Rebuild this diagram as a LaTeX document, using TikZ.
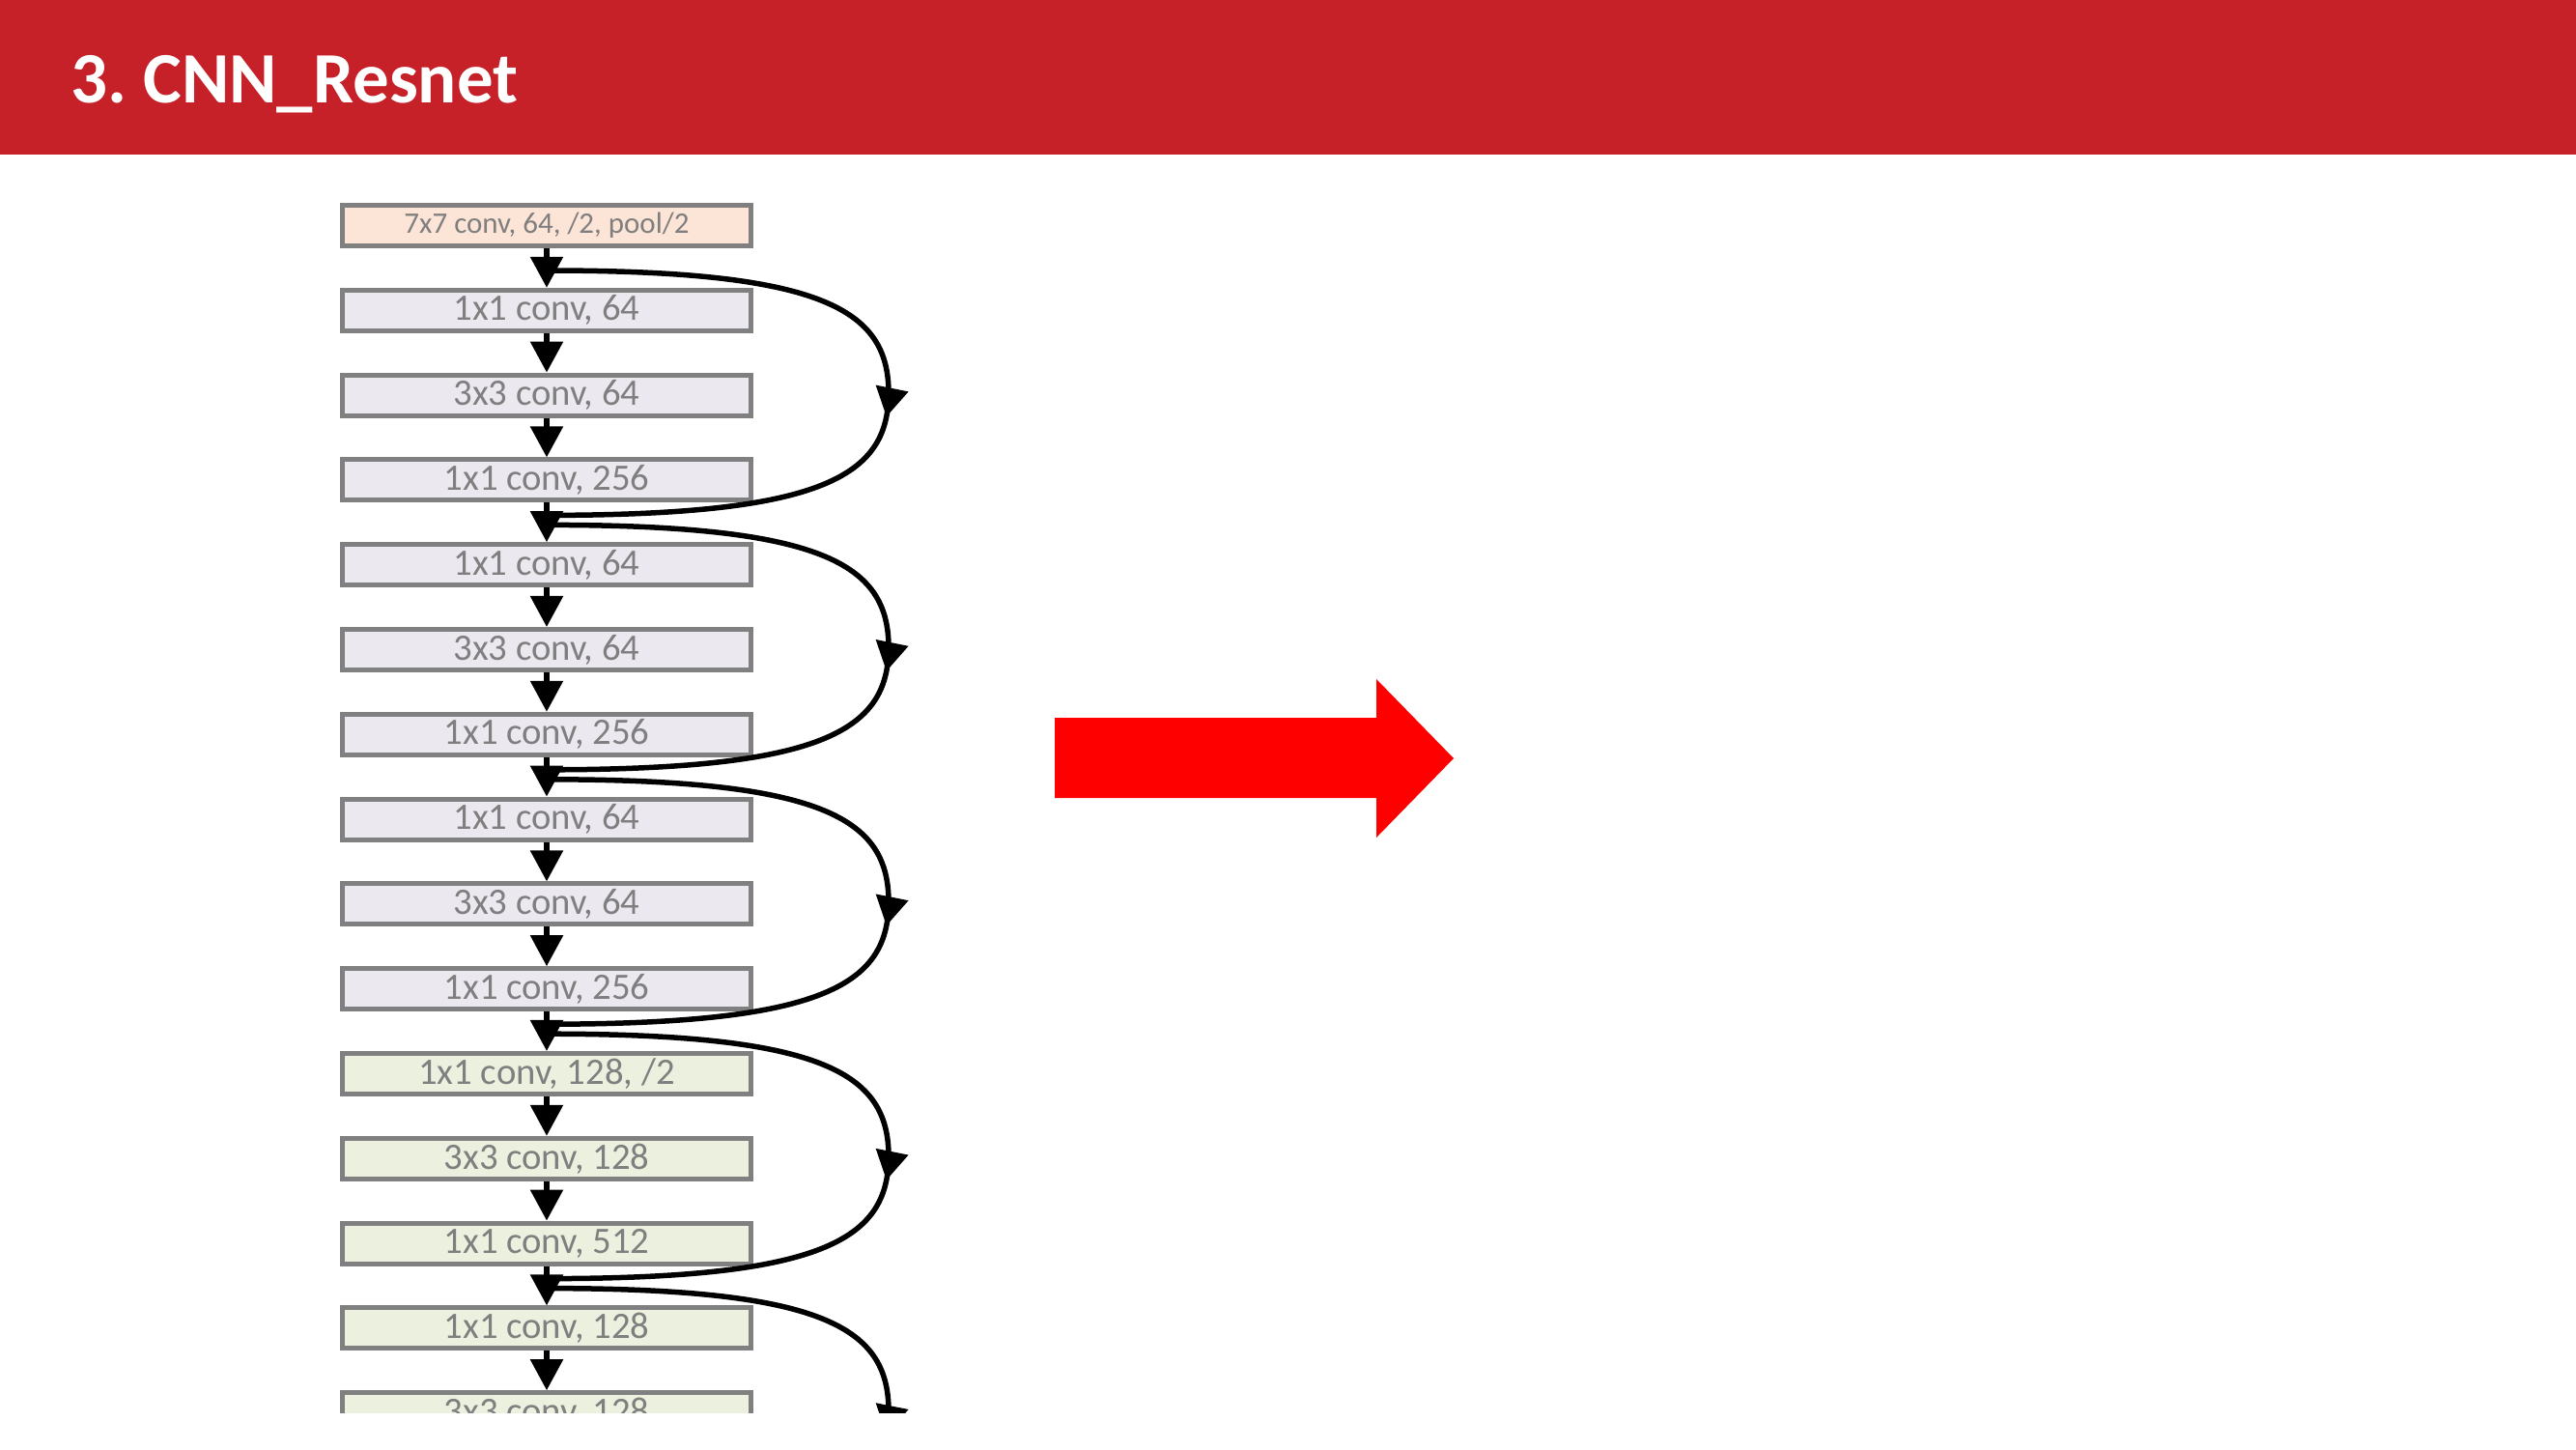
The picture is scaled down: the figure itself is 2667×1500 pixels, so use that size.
\documentclass[tikz,border=0pt]{standalone}
\usepackage{fontspec}
\setmainfont{Carlito}
\usetikzlibrary{arrows.meta,decorations.markings}
\definecolor{bannerred}{HTML}{C62028}
\definecolor{boxgray}{HTML}{808080}
\definecolor{textgray}{HTML}{7F7F7F}
\definecolor{stemfill}{HTML}{FCE4D6}
\definecolor{lavfill}{HTML}{EBE8F0}
\definecolor{greenfill}{HTML}{EBF1DE}
\tikzset{
	convbox/.style={draw=boxgray, line width=0.05cm, minimum width=4.22cm, minimum height=0.42cm, inner sep=0pt, text=textgray, font=\fontsize{11pt}{13pt}\selectfont},
	flow/.style={line width=0.055cm, -{Triangle[length=0.32cm,width=0.33cm]}},
	skip/.style={line width=0.055cm, postaction={decorate}, decoration={markings, mark=at position 0.53 with {\arrow{Triangle[length=0.3cm,width=0.33cm]}}}}
}
\newcommand{\BoxStem}[3][]{\node[convbox, fill=stemfill, font=\fontsize{8.8pt}{10pt}\selectfont, #1] (#2) {#3};}
\newcommand{\BoxA}[3][]{\node[convbox, fill=lavfill, #1] (#2) {#3};}
\newcommand{\BoxB}[3][]{\node[convbox, fill=greenfill, #1] (#2) {#3};}

\begin{document}
\begin{tikzpicture}[x=0.01cm, y=-0.01cm]
\useasboundingbox (0,0) rectangle (2667,1500);
\fill[bannerred] (0,0) rectangle (2667,160);
\node[anchor=base west, inner sep=0pt, text=white, font=\bfseries\fontsize{21.3pt}{24pt}\selectfont] (title) at (73,107) {3.\ CNN\_Resnet};

% arrow to the right
\fill[red] (1092,743) -- (1425,743) -- (1425,703) -- (1505,785) -- (1425,867) -- (1425,826) -- (1092,826) -- cycle;

\begin{scope}
\clip (0,0) rectangle (2667,1462);
	\BoxStem[at={(566,233.5)}]{b1}{7x7 conv, 64, /2, pool/2}
	\BoxA[at={(566,321.3)}]{b2}{1x1 conv, 64}
	\BoxA[at={(566,409.1)}]{b3}{3x3 conv, 64}
	\BoxA[at={(566,496.9)}]{b4}{1x1 conv, 256}
	\BoxA[at={(566,584.7)}]{b5}{1x1 conv, 64}
	\BoxA[at={(566,672.5)}]{b6}{3x3 conv, 64}
	\BoxA[at={(566,760.3)}]{b7}{1x1 conv, 256}
	\BoxA[at={(566,848.1)}]{b8}{1x1 conv, 64}
	\BoxA[at={(566,935.9)}]{b9}{3x3 conv, 64}
	\BoxA[at={(566,1023.7)}]{b10}{1x1 conv, 256}
	\BoxB[at={(566,1111.5)}]{b11}{1x1 conv, 128, /2}
	\BoxB[at={(566,1199.3)}]{b12}{3x3 conv, 128}
	\BoxB[at={(566,1287.1)}]{b13}{1x1 conv, 512}
	\BoxB[at={(566,1374.9)}]{b14}{1x1 conv, 128}
	\BoxB[at={(566,1462.7)}]{b15}{3x3 conv, 128}

	% shortcut ends
	\coordinate (s0) at (566,280);
	\coordinate (m0) at (920,406.7);
	\coordinate (e0) at (566,533.4);
	\coordinate (s1) at (566,543.4);
	\coordinate (m1) at (920,670.1);
	\coordinate (e1) at (566,796.8);
	\coordinate (s2) at (566,806.8);
	\coordinate (m2) at (920,933.5);
	\coordinate (e2) at (566,1060.2);
	\coordinate (s3) at (566,1070.2);
	\coordinate (m3) at (920,1196.9);
	\coordinate (e3) at (566,1323.6);
	\coordinate (s4) at (566,1333.6);
	\coordinate (m4) at (920,1460.3);
	\coordinate (e4) at (566,1587);

	\draw[skip] (s0) .. controls +(284,0) and +(0,-87) .. (m0) .. controls +(0,87) and +(284,0) .. (e0);
	\draw[skip] (s1) .. controls +(284,0) and +(0,-87) .. (m1) .. controls +(0,87) and +(284,0) .. (e1);
	\draw[skip] (s2) .. controls +(284,0) and +(0,-87) .. (m2) .. controls +(0,87) and +(284,0) .. (e2);
	\draw[skip] (s3) .. controls +(284,0) and +(0,-87) .. (m3) .. controls +(0,87) and +(284,0) .. (e3);
	\draw[skip] (s4) .. controls +(284,0) and +(0,-87) .. (m4) .. controls +(0,87) and +(284,0) .. (e4);

	\draw[flow] (b1) -- (b2);
	\draw[flow] (b2) -- (b3);
	\draw[flow] (b3) -- (b4);
	\draw[flow] (b4) -- (b5);
	\draw[flow] (b5) -- (b6);
	\draw[flow] (b6) -- (b7);
	\draw[flow] (b7) -- (b8);
	\draw[flow] (b8) -- (b9);
	\draw[flow] (b9) -- (b10);
	\draw[flow] (b10) -- (b11);
	\draw[flow] (b11) -- (b12);
	\draw[flow] (b12) -- (b13);
	\draw[flow] (b13) -- (b14);
	\draw[flow] (b14) -- (b15);
\end{scope}

\end{tikzpicture}
\end{document}
